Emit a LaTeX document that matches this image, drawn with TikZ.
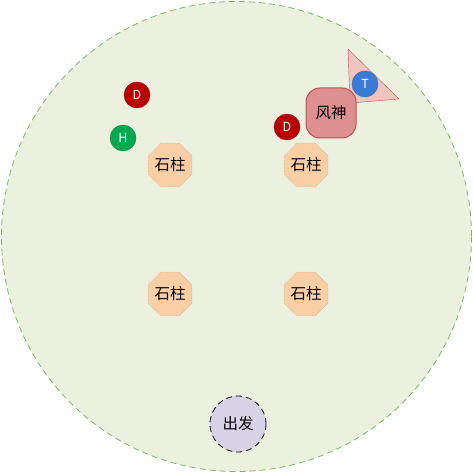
\documentclass[tikz,border=0pt]{standalone}
\usepackage{fontspec}
\setmainfont{Noto Sans CJK SC}
\usepackage{tikz}
\usetikzlibrary{shapes.geometric}
\definecolor{fieldfill}{HTML}{EBF0DF}
\definecolor{fieldline}{HTML}{82B366}
\definecolor{pillarfill}{HTML}{FACFA6}
\definecolor{pillarline}{HTML}{C8956A}
\definecolor{godfill}{HTML}{DE8F8F}
\definecolor{godline}{HTML}{B85450}
\definecolor{fanfill}{HTML}{F2C4C0}
\definecolor{startfill}{HTML}{D8D2E6}
\definecolor{dred}{HTML}{B80000}
\definecolor{hgreen}{HTML}{00A84F}
\definecolor{tblue}{HTML}{3A7BD5}
\tikzset{
  pillar/.style={regular polygon,regular polygon sides=8,minimum size=47pt,inner sep=0pt,
    fill=pillarfill,draw=pillarline,densely dotted,font=\fontsize{15.5}{15.5}\selectfont},
  marker/.style={circle,minimum size=26pt,inner sep=0pt,text=white,font=\fontsize{12.5}{12.5}\selectfont},
}

\begin{document}
\begin{tikzpicture}[x=1pt,y=-1pt]
        \useasboundingbox (0,0) rectangle (473,473);
        % Draw the round arena
        \draw[fieldline,fill=fieldfill,line width=0.8pt,dash pattern=on 6pt off 4pt] (236.5,236.5) circle[radius=235];
        % Stone pillars
        \node[pillar] (pillarTL) at (170,165) {石柱};
        \node[pillar] (pillarTR) at (306,165) {石柱};
        \node[pillar] (pillarBL) at (170,294) {石柱};
        \node[pillar] (pillarBR) at (306,294) {石柱};
        % Wind god and its fan
        \coordinate (fanA) at (348,49);
        \coordinate (fanB) at (399,99);
        \coordinate (fanC) at (350,103);
        \draw[godline,fill=fanfill] (fanA) -- (fanB) -- (fanC) -- cycle;
        \node[draw=godline,line width=1pt,fill=godfill,rounded corners=14pt,minimum size=50pt,inner sep=0pt,
          font=\fontsize{15.5}{15.5}\selectfont] (windgod) at (331,113) {风神};
        \node[marker,fill=tblue,draw=tblue!80!black] (tank) at (365,84) {T};
        % Other markers
        \node[marker,fill=dred,draw=dred!80!black] (dpsR) at (287,127) {D};
        \node[marker,fill=dred,draw=dred!80!black] (dpsL) at (137,95) {D};
        \node[marker,fill=hgreen,draw=hgreen!80!black] (healer) at (123,138) {H};
        % Start point
        \node[circle,draw=black,line width=0.8pt,dash pattern=on 6pt off 4pt,fill=startfill,minimum size=56pt,inner sep=0pt,
          font=\fontsize{15.5}{15.5}\selectfont] (start) at (238,424) {出发};
    \end{tikzpicture}
\end{document}
